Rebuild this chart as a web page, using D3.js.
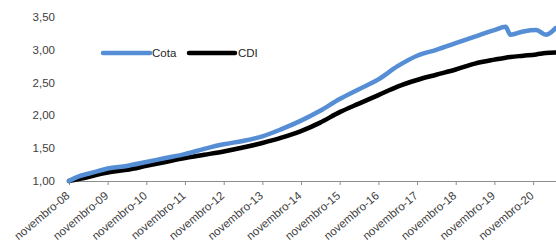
<!DOCTYPE html>
<html><head><meta charset="utf-8">
<script src="https://cdn.jsdelivr.net/npm/d3@7"></script>
<style>body{margin:0;background:#fff}svg{display:block;font-family:"Liberation Sans",Arial,sans-serif}</style>
</head><body><svg id="c" width="556" height="245"></svg>
<script>
const dates = ["2008-11-01","2009-02-01","2009-05-01","2009-08-01","2009-11-01","2010-05-01","2010-11-01","2011-05-01","2011-11-01","2012-05-01","2012-11-01","2013-05-01","2013-11-01","2014-05-01","2014-11-01","2015-05-01","2015-11-01","2016-05-01","2016-11-01","2017-05-01","2017-11-01","2018-05-01","2018-11-01","2019-05-01","2019-11-01","2020-02-15","2020-04-01","2020-08-01","2020-12-01","2021-03-01","2021-06-01"];
const cota = [1.00,1.07,1.11,1.15,1.19,1.23,1.29,1.35,1.41,1.49,1.56,1.61,1.68,1.79,1.92,2.07,2.25,2.40,2.55,2.75,2.91,3.00,3.10,3.20,3.30,3.35,3.23,3.28,3.30,3.23,3.33];
const cdi  = [1.00,1.03,1.06,1.10,1.13,1.17,1.23,1.29,1.35,1.40,1.45,1.51,1.58,1.66,1.76,1.89,2.05,2.18,2.31,2.44,2.54,2.62,2.70,2.79,2.85,2.88,2.89,2.91,2.93,2.95,2.96];
const yTicks = [1.0,1.5,2.0,2.5,3.0,3.5];
const xTickDates = ["2008-11-01","2009-11-01","2010-11-01","2011-11-01","2012-11-01","2013-11-01","2014-11-01","2015-11-01","2016-11-01","2017-11-01","2018-11-01","2019-11-01","2020-11-01"];
const seriesNames = ["Cota","CDI"];
const colors = ["#558ed5","#000000"];

const parse = d3.timeParse("%Y-%m-%d");
const svg = d3.select("#c");
const x = d3.scaleTime().domain([parse("2008-11-01"), parse("2021-06-05")]).range([69, 556]);
const y = d3.scaleLinear().domain([1, 3.5]).range([181, 17]);
const fmt = v => d3.format(".2f")(v).replace(".", ",");

svg.append("g").selectAll("text").data(yTicks).join("text")
  .attr("x", 55).attr("y", d => y(d)).attr("dy", "0.35em")
  .attr("text-anchor", "end").attr("font-size", 11.5).attr("fill", "#404040")
  .text(fmt);

const ptBr = d => "novembro-" + d3.timeFormat("%y")(d);
const xAxis = d3.axisBottom(x).tickValues(xTickDates.map(parse)).tickSize(4).tickFormat(ptBr);
const gx = svg.append("g").attr("transform", "translate(0,181)").call(xAxis);
gx.select(".domain").attr("stroke", "#8c8c8c").attr("d", "M69,0.5H556");
gx.selectAll(".tick line").attr("stroke", "#8c8c8c");
gx.selectAll(".tick text").attr("font-size", 11.5).attr("fill", "#404040")
  .attr("font-family", "Liberation Sans, Arial, sans-serif")
  .attr("text-anchor", "end").attr("dy", 0).attr("y", 0)
  .attr("transform", "translate(1,16) rotate(-40)");

const line = d3.line().x(d => x(d[0])).y(d => y(d[1])).curve(d3.curveMonotoneX);
const data = [cota, cdi];
[1,0].forEach(i => {
  svg.append("path").datum(dates.map((d,j) => [parse(d), data[i][j]]))
    .attr("d", line).attr("fill", "none").attr("stroke", colors[i])
    .attr("stroke-width", 4.5).attr("stroke-linejoin", "round").attr("stroke-linecap", "round");
});

const leg = [[103,150,152],[189,235,238]];
seriesNames.forEach((n,i) => {
  svg.append("line").attr("x1", leg[i][0]).attr("x2", leg[i][1]).attr("y1", 53).attr("y2", 53)
    .attr("stroke", colors[i]).attr("stroke-width", 4.5).attr("stroke-linecap", "round");
  svg.append("text").attr("x", leg[i][2]).attr("y", 53).attr("dy", "0.35em")
    .attr("font-size", 11.5).attr("fill", "#262626").text(n);
});
</script></body></html>
